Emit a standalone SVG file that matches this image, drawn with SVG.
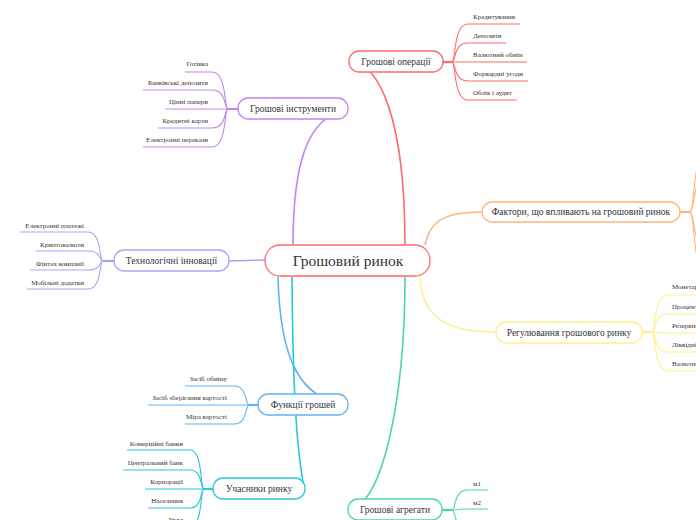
<svg xmlns="http://www.w3.org/2000/svg" width="696" height="520" viewBox="0 0 696 520">
<style>
  text { font-family: "Liberation Serif", "Times New Roman", serif; fill: #333; }
  .c { font-size: 7px; }
  .b { font-size: 9.5px; text-anchor: middle; }
  .m { font-size: 15.5px; text-anchor: middle; }
  .r { text-anchor: end; }
  .node { fill: #fff; stroke-width: 1.3; }
  path { fill: none; }
  .red { stroke: #FF6B6B; }
  .pur { stroke: #C184F2; }
  .lav { stroke: #A6A6F5; }
  .ora { stroke: #FFB47C; }
  .yel { stroke: #FFEF8A; }
  .blu { stroke: #62B2F3; }
  .cya { stroke: #26C8DA; }
  .grn { stroke: #4ED6A6; }
  .link { stroke-width: 1.6; }
  .jn { stroke-width: 2.2; }
  .ch { stroke-width: 1.1; }
</style>
<rect width="696" height="520" fill="#fff"/>
<g id="connectors">
  <!-- main links -->
  <path class="link red" d="M 349 62 C 380 62, 405 120, 405 245"/>
  <path class="link pur" d="M 293 245 C 293 170, 305 115, 348 110"/>
  <path class="link lav" d="M 229 261 L 266 260"/>
  <path class="link ora" d="M 425 245 C 430 218, 450 212, 482 212"/>
  <path class="link yel" d="M 420 277 C 422 320, 450 332, 496 332"/>
  <path class="link blu" d="M 278 277 C 280 360, 300 400, 348 405"/>
  <path class="link cya" d="M 292 277 C 293 400, 297 450, 304 488"/>
  <path class="link grn" d="M 348 509 C 382 509, 405 400, 405 276"/>
  <!-- operations children -->
  <path class="jn red" d="M 443 62 H 452"/>
  <path class="ch red" d="M 452 62 C 456 62, 453 24, 468 24 H 520"/>
  <path class="ch red" d="M 452 62 C 456 62, 453 43, 468 43 H 506"/>
  <path class="ch red" d="M 452 62 H 527"/>
  <path class="ch red" d="M 452 62 C 456 62, 453 81, 468 81 H 528"/>
  <path class="ch red" d="M 452 62 C 456 62, 453 100, 468 100 H 517"/>
  <!-- instruments children -->
  <path class="jn pur" d="M 238 109 H 228"/>
  <path class="ch pur" d="M 228 109 C 224 109, 227 72, 212 72 H 185"/>
  <path class="ch pur" d="M 228 109 C 224 109, 227 90, 212 90 H 143"/>
  <path class="ch pur" d="M 228 109 H 165"/>
  <path class="ch pur" d="M 228 109 C 224 109, 227 128, 212 128 H 158"/>
  <path class="ch pur" d="M 228 109 C 224 109, 227 147, 212 147 H 143"/>
  <!-- tech children -->
  <path class="jn lav" d="M 114 261 H 103"/>
  <path class="ch lav" d="M 103 261 C 99 261, 102 232, 88 232 H 20"/>
  <path class="ch lav" d="M 103 261 C 99 261, 102 251, 88 251 H 36"/>
  <path class="ch lav" d="M 103 261 C 99 261, 102 270, 88 270 H 30"/>
  <path class="ch lav" d="M 103 261 C 99 261, 102 289, 88 289 H 27"/>
  <!-- factors children (off edge) -->
  <path class="jn ora" d="M 680 212 H 690"/>
  <path class="ch ora" d="M 690 212 C 695 212, 692 150, 708 150 H 760"/>
  <path class="ch ora" d="M 690 212 C 695 212, 692 175, 708 175 H 760"/>
  <path class="ch ora" d="M 690 212 C 695 212, 692 250, 708 250 H 760"/>
  <path class="ch ora" d="M 690 212 C 695 212, 692 275, 708 275 H 760"/>
  <!-- regulation children -->
  <path class="jn yel" d="M 642 332 H 652"/>
  <path class="ch yel" d="M 652 332 C 656 332, 653 295, 668 295 H 720"/>
  <path class="ch yel" d="M 652 332 C 656 332, 653 314, 668 314 H 720"/>
  <path class="ch yel" d="M 652 332 C 656 332, 653 333, 668 333 H 720"/>
  <path class="ch yel" d="M 652 332 C 656 332, 653 352, 668 352 H 720"/>
  <path class="ch yel" d="M 652 332 C 656 332, 653 371, 668 371 H 720"/>
  <!-- functions children -->
  <path class="jn blu" d="M 258 405 H 249"/>
  <path class="ch blu" d="M 249 405 C 245 405, 248 386, 234 386 H 185"/>
  <path class="ch blu" d="M 249 405 H 148"/>
  <path class="ch blu" d="M 249 405 C 245 405, 248 424, 234 424 H 185"/>
  <!-- participants children -->
  <path class="jn cya" d="M 213 489 H 204"/>
  <path class="ch cya" d="M 204 489 C 200 489, 203 450, 190 450 H 127"/>
  <path class="ch cya" d="M 204 489 C 200 489, 203 470, 190 470 H 123"/>
  <path class="ch cya" d="M 204 489 H 145"/>
  <path class="ch cya" d="M 204 489 C 200 489, 203 508, 190 508 H 148"/>
  <path class="ch cya" d="M 204 489 C 200 489, 203 527, 190 527 H 160"/>
  <!-- aggregates children -->
  <path class="jn grn" d="M 442 510 H 452"/>
  <path class="ch grn" d="M 452 510 C 456 510, 453 490, 468 490 H 488"/>
  <path class="ch grn" d="M 452 510 C 456 510, 453 509, 468 509 H 488"/>
  <path class="ch grn" d="M 452 510 C 456 510, 453 528, 468 528 H 488"/>
</g>
<g id="central">
  <rect class="node red" x="265" y="245" width="165" height="31" rx="15" stroke-width="2.6"/>
  <text class="m" x="348" y="266">Грошовий ринок</text>
</g>
<g id="operations">
  <rect class="node red" x="349" y="51" width="94" height="21" rx="10"/>
  <text class="b" x="396" y="65">Грошові операції</text>
  <text class="c" x="473" y="19">Кредитування</text>
  <text class="c" x="473" y="38">Депозити</text>
  <text class="c" x="473" y="57">Валютний обмін</text>
  <text class="c" x="473" y="76">Форвардні угоди</text>
  <text class="c" x="473" y="95">Облік і аудит</text>
</g>
<g id="instruments">
  <rect class="node pur" x="238" y="98" width="110" height="21" rx="10"/>
  <text class="b" x="293" y="112">Грошові інструменти</text>
  <text class="c r" x="208" y="66">Готівка</text>
  <text class="c r" x="208" y="85">Банківські депозити</text>
  <text class="c r" x="208" y="104">Цінні папери</text>
  <text class="c r" x="208" y="123">Кредитні карти</text>
  <text class="c r" x="208" y="142">Електронні перекази</text>
</g>
<g id="tech">
  <rect class="node lav" x="114" y="250" width="115" height="21" rx="10"/>
  <text class="b" x="171.5" y="264">Технологічні інновації</text>
  <text class="c r" x="84" y="228">Електронні платежі</text>
  <text class="c r" x="84" y="247">Криптовалюти</text>
  <text class="c r" x="84" y="266">Фінтех компанії</text>
  <text class="c r" x="84" y="285">Мобільні додатки</text>
</g>
<g id="factors">
  <rect class="node ora" x="482" y="202" width="198" height="20" rx="10"/>
  <text class="b" x="581" y="215">Фактори, що впливають на грошовий ринок</text>
</g>
<g id="regulation">
  <rect class="node yel" x="496" y="322" width="146" height="21" rx="10"/>
  <text class="b" x="569" y="336">Регулювання грошового ринку</text>
  <text class="c" x="672" y="289">Монетарна політика</text>
  <text class="c" x="672" y="309">Процентні ставки</text>
  <text class="c" x="672" y="328">Резервні вимоги</text>
  <text class="c" x="672" y="347">Ліквідність</text>
  <text class="c" x="672" y="366">Валютний курс</text>
</g>
<g id="functions">
  <rect class="node blu" x="258" y="394" width="90" height="21" rx="10"/>
  <text class="b" x="303" y="408">Функції грошей</text>
  <text class="c r" x="227" y="381">Засіб обміну</text>
  <text class="c r" x="227" y="400">Засіб зберігання вартості</text>
  <text class="c r" x="227" y="419">Міра вартості</text>
</g>
<g id="participants">
  <rect class="node cya" x="213" y="478" width="92" height="21" rx="10"/>
  <text class="b" x="259" y="492">Учасники ринку</text>
  <text class="c r" x="183" y="446">Комерційні банки</text>
  <text class="c r" x="183" y="465">Центральний банк</text>
  <text class="c r" x="183" y="484">Корпорації</text>
  <text class="c r" x="183" y="503">Населення</text>
  <text class="c r" x="183" y="522">Уряд</text>
</g>
<g id="aggregates">
  <rect class="node grn" x="348" y="499" width="94" height="21" rx="10"/>
  <text class="b" x="395" y="513">Грошові агрегати</text>
  <text class="c" x="473" y="486">м1</text>
  <text class="c" x="473" y="505">м2</text>
  <text class="c" x="473" y="524">м3</text>
</g>
</svg>
